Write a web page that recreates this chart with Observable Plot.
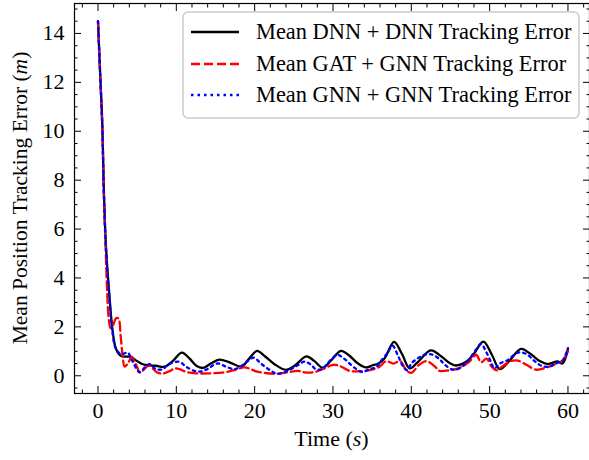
<!DOCTYPE html>
<html><head><meta charset="utf-8">
<script src="https://cdn.jsdelivr.net/npm/d3@7"></script>
<script src="https://cdn.jsdelivr.net/npm/@observablehq/plot@0.6"></script>
<style>
body{margin:0;background:#fff;}
#chart{position:relative;width:589px;height:460px;overflow:hidden;}
#chart svg text{font-family:'Liberation Serif','Times New Roman',serif !important;}
</style>
</head><body><div id="chart"></div>
<script>
// ---- data (time s, error m) ----
const dnnSeries = [[0,14.5],[0.27,12.4],[0.54,10.4],[0.74,7.7],[0.96,5.66],[1.17,4.5],[1.38,3.6],[1.6,2.7],[1.81,1.98],[2.23,1.16],[2.66,0.89],[3.0,0.8],[3.6,0.78],[4.2,0.77],[4.9,0.62],[5.7,0.47],[6.5,0.43],[7.4,0.41],[8.5,0.37],[9.6,0.62],[10.7,0.95],[11.7,0.7],[12.6,0.4],[13.4,0.32],[14.4,0.5],[15.5,0.66],[16.8,0.55],[18.3,0.38],[19.3,0.7],[20.3,1.02],[21.3,0.8],[22.5,0.48],[24.0,0.24],[25.1,0.41],[26.6,0.79],[27.6,0.61],[28.7,0.33],[29.8,0.64],[31.0,1.02],[32.1,0.82],[33.2,0.5],[34.2,0.34],[35.0,0.42],[35.8,0.5],[36.6,0.72],[37.8,1.39],[38.8,0.9],[39.8,0.3],[40.8,0.55],[42.5,1.04],[43.8,0.8],[45.0,0.5],[45.7,0.42],[47.0,0.57],[48.0,0.9],[49.2,1.4],[50.3,0.85],[51.3,0.27],[52.5,0.6],[54.0,1.1],[55.2,0.9],[56.4,0.6],[57.4,0.48],[58.7,0.59],[59.3,0.5],[60,1.1]];
const gatSeries = [[0,14.5],[0.27,12.3],[0.54,10.2],[0.74,7.5],[0.96,5.4],[1.15,3.6],[1.35,2.4],[1.6,1.95],[1.9,2.05],[2.3,2.35],[2.6,2.35],[2.9,1.6],[3.15,0.8],[3.4,0.38],[3.8,0.5],[4.3,0.75],[4.8,0.5],[5.4,0.13],[6.0,0.3],[6.5,0.42],[7.0,0.3],[7.5,0.14],[8.3,0.09],[9.2,0.2],[9.8,0.3],[10.5,0.26],[11.2,0.16],[12.5,0.1],[14.2,0.1],[15.9,0.13],[17.4,0.23],[18.6,0.34],[19.3,0.3],[20.2,0.18],[21.2,0.12],[22.5,0.08],[24.2,0.14],[25.5,0.2],[26.4,0.14],[27.6,0.15],[28.9,0.3],[30.0,0.45],[31.0,0.38],[32.1,0.2],[33.2,0.18],[34.6,0.22],[35.9,0.36],[36.8,0.6],[37.7,0.5],[38.6,0.6],[39.3,0.25],[40.0,0.12],[41.0,0.45],[41.9,0.6],[43.0,0.38],[43.6,0.2],[44.8,0.22],[46.0,0.3],[47.3,0.55],[48.3,0.85],[48.9,0.55],[49.6,0.7],[50.2,0.4],[50.9,0.22],[51.7,0.4],[52.7,0.6],[53.6,0.62],[54.7,0.45],[55.9,0.25],[57.2,0.33],[58.5,0.5],[59.3,0.62],[60,1.0]];
const gnnSeries = [[0,14.5],[0.27,12.4],[0.54,10.3],[0.74,7.6],[0.96,5.6],[1.17,4.4],[1.38,3.5],[1.6,2.6],[1.81,1.9],[2.23,1.15],[2.9,0.89],[3.4,0.92],[3.8,0.95],[4.4,0.6],[5.3,0.15],[6.0,0.35],[6.6,0.48],[7.4,0.27],[8.3,0.27],[8.9,0.45],[10.4,0.57],[11.2,0.38],[12.3,0.2],[13.2,0.18],[14.0,0.28],[15.2,0.5],[16.3,0.38],[17.4,0.27],[18.3,0.4],[19.1,0.6],[19.9,0.74],[20.8,0.5],[22.1,0.2],[22.9,0.08],[24.0,0.17],[25.4,0.41],[26.4,0.58],[27.2,0.45],[27.8,0.27],[28.6,0.28],[29.8,0.68],[30.6,0.85],[31.5,0.68],[32.3,0.45],[33.0,0.27],[33.8,0.15],[34.6,0.27],[35.5,0.35],[36.1,0.6],[37.0,0.95],[37.6,1.23],[38.3,0.82],[38.9,0.41],[39.5,0.22],[40.0,0.5],[41.0,0.75],[41.9,0.88],[42.7,0.86],[43.6,0.68],[44.2,0.48],[45.1,0.27],[45.9,0.27],[46.6,0.41],[47.4,0.68],[48.3,1.09],[48.9,1.3],[49.6,0.95],[50.2,0.54],[50.6,0.3],[51.3,0.5],[52.3,0.64],[53.6,0.95],[54.7,0.89],[55.7,0.61],[56.6,0.41],[57.6,0.37],[58.7,0.54],[59.3,0.61],[60,1.13]];

const seriesNames = ["Mean DNN + DNN Tracking Error","Mean GAT + GNN Tracking Error","Mean GNN + GNN Tracking Error"];
const seriesColors = ["#000000","#ff0000","#0000ff"];
const seriesDash = [null,"9,4","2.5,4"];

const xMajorTicks = [0,10,20,30,40,50,60];
const xMinorTicks = [-2,2,4,6,8,12,14,16,18,22,24,26,28,32,34,36,38,42,44,46,48,52,54,56,58,62];
const yMajorTicks = [0,2,4,6,8,10,12,14];
const yMinorTicks = d3.range(-0.5,15.01,0.5).filter(v => v % 2 !== 0);

const toRows = (arr, name) => arr.map(([t,v]) => ({t, v, name}));
const allData = [dnnSeries, gatSeries, gnnSeries];

const font = "'Liberation Serif','Times New Roman',serif";
const W = 589, H = 460;

const lineMarks = allData.map((s,i) => Plot.line(toRows(s, seriesNames[i]), {
  x:"t", y:"v", stroke: seriesColors[i], strokeWidth: 2.3,
  strokeDasharray: seriesDash[i] ?? undefined, curve:"catmull-rom"
}));

const plot = Plot.plot({
  width: W, height: H,
  marginLeft: 74, marginRight: 0, marginTop: 3, marginBottom: 67,
  style: {fontFamily: font, fontSize: "22px", background: "white", overflow: "visible"},
  x: {domain: [-3, 62.75], label: null},
  y: {domain: [-0.725, 15.225], label: null},
  marks: [
    ...lineMarks,
    Plot.axisX(xMajorTicks, {anchor:"bottom", tickSize:-7, fill:"none", label:null, strokeWidth:1}),
    Plot.axisX(xMajorTicks, {anchor:"top", tickSize:-7, fill:"none", label:null, strokeWidth:1}),
    Plot.axisX(xMinorTicks, {anchor:"bottom", tickSize:-3.5, fill:"none", label:null, strokeWidth:1}),
    Plot.axisX(xMinorTicks, {anchor:"top", tickSize:-3.5, fill:"none", label:null, strokeWidth:1}),
    Plot.axisY(yMajorTicks, {anchor:"left", tickSize:-7, fill:"none", label:null, strokeWidth:1}),
    Plot.axisY(yMajorTicks, {anchor:"right", tickSize:-7, fill:"none", label:null, strokeWidth:1}),
    Plot.axisY(yMinorTicks, {anchor:"left", tickSize:-3.5, fill:"none", label:null, strokeWidth:1}),
    Plot.axisY(yMinorTicks, {anchor:"right", tickSize:-3.5, fill:"none", label:null, strokeWidth:1}),
    Plot.axisX(xMajorTicks, {anchor:"bottom", tickSize:0, tickPadding:9, label:null, fontSize:22, fill:"black", fontFamily: font}),
    Plot.axisY(yMajorTicks, {anchor:"left", tickSize:0, tickPadding:10, label:null, fontSize:22, fill:"black", fontFamily: font}),
    Plot.frame({stroke:"black", strokeWidth:1.2})
  ]
});

document.getElementById("chart").appendChild(plot);

const svg = d3.select(plot);
svg.selectAll("g, text").style("font-family", font).style("font-variant", "normal");
const xr = plot.scale("x").range, yr = plot.scale("y").range;
const cx = (xr[0] + xr[1]) / 2, cy = (yr[0] + yr[1]) / 2;

// axis titles
const xt = svg.append("text").attr("x", cx).attr("y", 446).attr("text-anchor","middle")
  .attr("font-family", font).attr("font-size", 22).attr("fill","black");
xt.append("tspan").text("Time (");
xt.append("tspan").attr("font-style","italic").text("s");
xt.append("tspan").text(")");

const yt = svg.append("text").attr("transform", `translate(27,${cy}) rotate(-90)`).attr("text-anchor","middle")
  .attr("font-family", font).attr("font-size", 21.5).attr("fill","black");
yt.append("tspan").text("Mean Position Tracking Error (");
yt.append("tspan").attr("font-style","italic").text("m");
yt.append("tspan").text(")");

// legend
const lg = svg.append("g").attr("text-anchor","start");
lg.append("rect").attr("x",183).attr("y",12).attr("width",396).attr("height",106).attr("rx",5)
  .attr("fill","white").attr("fill-opacity",0.8).attr("stroke","#cccccc").attr("stroke-width",1.5);
const rowY = [32, 64, 95];
seriesNames.forEach((name,i) => {
  const ln = lg.append("line").attr("x1",191).attr("x2",239).attr("y1",rowY[i]).attr("y2",rowY[i])
    .attr("stroke", seriesColors[i]).attr("stroke-width",2.3);
  if (seriesDash[i]) ln.attr("stroke-dasharray", seriesDash[i]);
  lg.append("text").attr("x",256).attr("y",rowY[i]).attr("dy","0.33em").attr("text-anchor","start")
    .attr("font-family", font).attr("font-size",22.4).attr("fill","black").text(name);
});
</script>
</body></html>
